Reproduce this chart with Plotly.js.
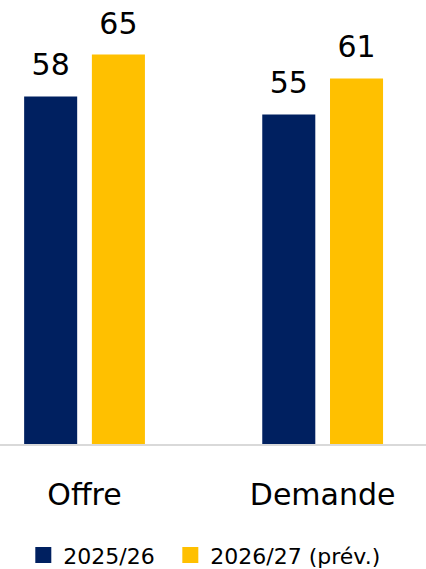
<!DOCTYPE html>
<html>
<head>
<meta charset="utf-8">
<script src="https://cdn.plot.ly/plotly-3.0.1.min.js"></script>
<style>html,body{margin:0;padding:0;background:#fff;}#chart{width:426px;height:569px;}</style>
</head>
<body>
<div id="chart"></div>
<script>
const categories = ['Offre', 'Demande'];
const seriesNames = ['2025/26', '2026/27 (prév.)'];
const values2025 = [58, 55];
const values2026 = [65, 61];
const colors = ['#002060', '#FFC000'];

const FONT = '"DejaVu Sans", sans-serif';
const allSeries = [values2025, values2026];
const groups = ['g1', 'g2'];
const legendIds = ['legend', 'legend2'];

const traces = [];
allSeries.forEach((vals, i) => {
  traces.push({
    type: 'bar', x: categories, y: vals, name: seriesNames[i],
    marker: {color: colors[i]}, offsetgroup: groups[i], showlegend: false,
    hoverinfo: 'skip'
  });
});
allSeries.forEach((vals, i) => {
  traces.push({
    type: 'scatter', mode: 'markers+text', x: categories, y: vals,
    text: vals.map(String), textposition: 'top center',
    textfont: {family: FONT, size: 30, color: '#000'},
    marker: {size: 20, opacity: 0}, offsetgroup: groups[i],
    showlegend: false, cliponaxis: false, hoverinfo: 'skip'
  });
});
allSeries.forEach((vals, i) => {
  traces.push({
    type: 'scatter', mode: 'markers', x: [null], y: [null], name: seriesNames[i],
    marker: {symbol: 'square', size: 16, color: colors[i]},
    offsetgroup: groups[i], showlegend: true, hoverinfo: 'skip',
    legend: legendIds[i]
  });
});

const legendStyle = {
  orientation: 'h', xanchor: 'left', y: -0.2503, yanchor: 'middle',
  font: {family: FONT, size: 22, color: '#000'}, itemwidth: 30,
  bgcolor: 'rgba(0,0,0,0)'
};

const layout = {
  width: 426, height: 569,
  margin: {l: 0, r: 0, t: 0, b: 125, autoexpand: false},
  paper_bgcolor: '#fff', plot_bgcolor: '#fff',
  barmode: 'group', bargap: 0.431, bargroupgap: 0.217,
  scattermode: 'group', scattergap: 0.431,
  font: {family: FONT, color: '#000'},
  xaxis: {
    type: 'category', range: [-0.355, 1.434], showline: true,
    linecolor: '#d9d9d9', linewidth: 1.5, ticks: '', showgrid: false,
    zeroline: false, tickfont: {family: FONT, size: 30, color: '#000'},
    ticklabelstandoff: 23, fixedrange: true, automargin: false
  },
  yaxis: {range: [0, 74.1], visible: false, fixedrange: true, automargin: false},
  legend: Object.assign({}, legendStyle, {x: 0.0547}),
  legend2: Object.assign({}, legendStyle, {x: 0.3998}),
  showlegend: true
};

Plotly.newPlot('chart', traces, layout, {displayModeBar: false, staticPlot: true});
</script>
</body>
</html>
